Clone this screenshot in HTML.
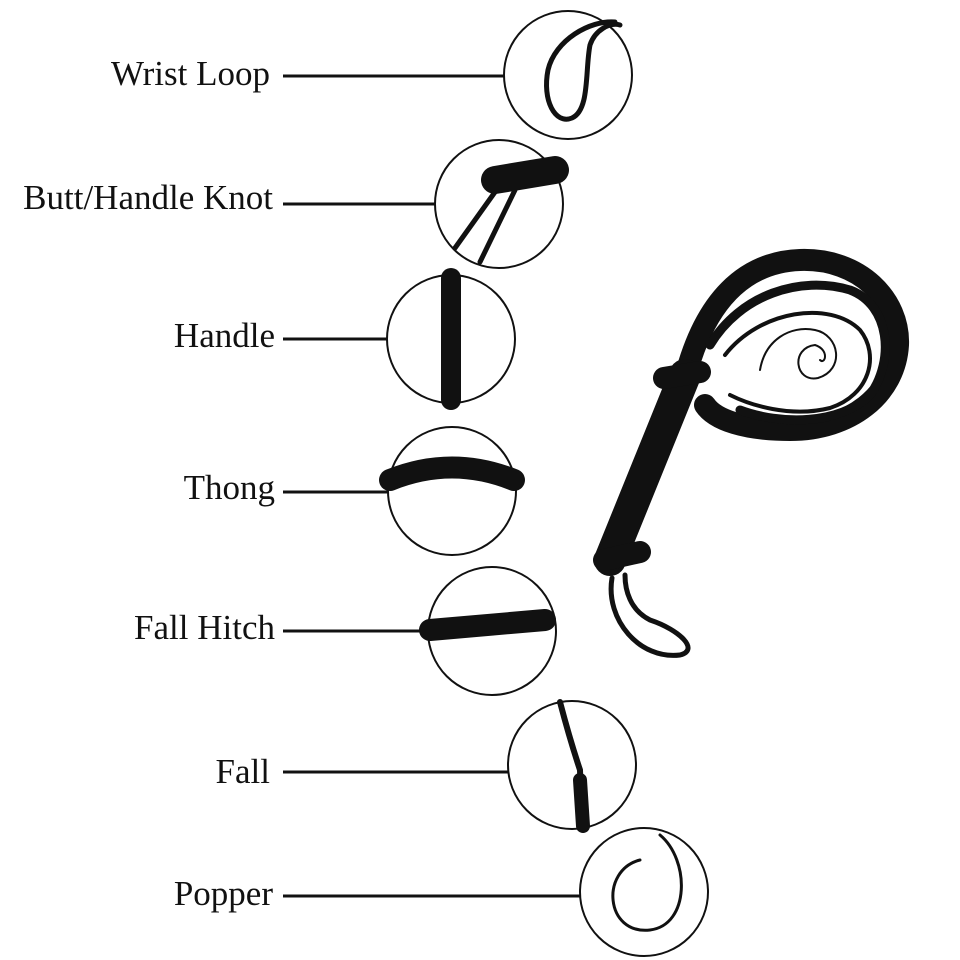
<!DOCTYPE html>
<html><head><meta charset="utf-8"><style>
html,body{margin:0;padding:0;background:#fff;}
svg{display:block}
text{font-family:"Liberation Serif",serif;font-size:35px;fill:#111}
</style></head><body>
<svg width="960" height="960" viewBox="0 0 960 960">
<g text-anchor="end">
<text x="270" y="85">Wrist Loop</text>
<text x="273" y="209">Butt/Handle Knot</text>
<text x="275" y="347">Handle</text>
<text x="275" y="499">Thong</text>
<text x="275" y="639">Fall Hitch</text>
<text x="270" y="783">Fall</text>
<text x="273" y="905">Popper</text>
</g>
<g stroke="#111" stroke-width="3">
<line x1="283" y1="76" x2="504" y2="76"/>
<line x1="283" y1="204" x2="435" y2="204"/>
<line x1="283" y1="339" x2="387" y2="339"/>
<line x1="283" y1="492" x2="388" y2="492"/>
<line x1="283" y1="631" x2="428" y2="631"/>
<line x1="283" y1="772" x2="508" y2="772"/>
<line x1="283" y1="896" x2="580" y2="896"/>
</g>
<g fill="#fff" stroke="#111" stroke-width="2">
<circle cx="568" cy="75" r="64"/>
<circle cx="499" cy="204" r="64"/>
<circle cx="451" cy="339" r="64"/>
<circle cx="452" cy="491" r="64"/>
<circle cx="492" cy="631" r="64"/>
<circle cx="572" cy="765" r="64"/>
<circle cx="644" cy="892" r="64"/>
</g>
<g fill="none" stroke="#111" stroke-linecap="round">
<path d="M615 22 C590 20 555 40 548 70 C542 100 555 125 572 118 C590 110 585 70 590 45 C595 30 610 22 620 25" stroke-width="5"/>
<path d="M455 248 L500 185 M480 262 L515 190" stroke-width="5"/>
<path d="M495 180 L555 170" stroke-width="28"/>
<path d="M451 278 L451 400" stroke-width="20"/>
<path d="M390 480 Q452 455 514 480" stroke-width="22"/>
<path d="M430 630 L545 620" stroke-width="22"/>
<path d="M560 702 Q570 740 580 770 L582 826" stroke-width="6"/>
<path d="M580 780 L583 826" stroke-width="14"/>
<path d="M640 860 C600 870 605 935 650 930 C690 925 690 860 660 835" stroke-width="3"/>
</g>
<!-- whip -->
<g fill="none" stroke="#111" stroke-linecap="round">
<path d="M685 378 C705 300 745 262 800 260 C860 258 900 300 898 345 C895 395 850 430 790 430 C745 430 715 420 705 405" stroke-width="22"/>
<path d="M710 345 C740 295 800 275 850 290 C890 305 895 360 870 395 C840 425 780 425 740 410" stroke-width="9"/>
<path d="M725 355 C760 310 830 300 860 330 C880 355 870 395 830 408 C790 418 750 405 730 395" stroke-width="4"/>
<path d="M610 560 L685 375" stroke-width="32"/>
<path d="M604 560 L640 552" stroke-width="22"/>
<path d="M664 378 L700 372" stroke-width="22"/>
<path d="M612 578 C605 620 640 660 680 655 C700 650 680 630 650 620 C630 610 625 590 625 575" stroke-width="5"/>
<path d="M760 370 C765 340 790 325 815 330 C840 335 845 370 818 378 C795 383 790 348 815 345 C830 350 825 365 820 360" stroke-width="2"/>
</g>
</svg>
</body></html>
